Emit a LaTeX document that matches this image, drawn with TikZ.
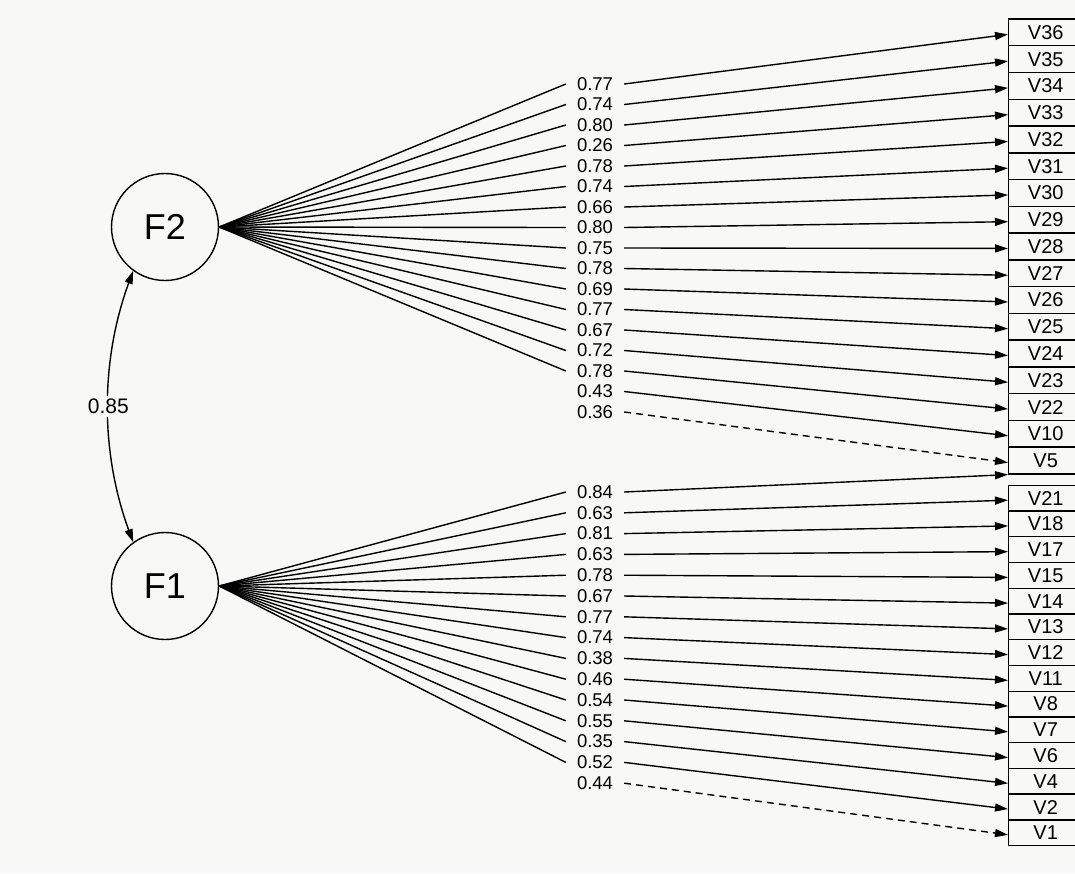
\documentclass[tikz,border=0pt]{standalone}
\usepackage{fontspec}
\setmainfont{Liberation Sans}
\usetikzlibrary{arrows.meta}
\definecolor{paper}{RGB}{248,248,247}
\begin{document}
\begin{tikzpicture}[x=1pt,y=-1pt,
  latent/.style={circle, draw, line width=1.4pt, minimum size=107pt, inner sep=0pt,
    font=\fontsize{36}{42}\selectfont},
  manifest/.style={rectangle, draw, line width=1.4pt, minimum width=74pt, anchor=west,
    inner sep=0pt, font=\fontsize{20}{24}\selectfont},
  loading/.style={inner xsep=11pt, inner ysep=0pt, font=\fontsize{18.5}{21}\selectfont},
  link/.style={line width=1.4pt},
  tip/.style={-{Triangle[length=13pt,width=8pt]}},
  arrowlink/.style={line width=1.4pt, tip},
  weak/.style={dash pattern=on 7pt off 5pt},
  hidden/.style={draw=none}]
\fill[paper] (0,0) rectangle (1075,873);
\useasboundingbox (0,0) rectangle (1075,873);
\clip (0,0) rectangle (1075,873);

% latent factors
\node[latent] (F2) at (165,227) {F2};
\node[latent] (F1) at (165,586) {F1};

% factor correlation
\draw[line width=1.4pt, {Triangle[length=13pt,width=8pt]}-{Triangle[length=13pt,width=8pt]}]
  (F2.234) .. controls +(-33,90) and +(-33,-90) .. (F1.126)
  node[pos=0.5, fill=paper, inner sep=3pt, font=\fontsize{21}{24}\selectfont] (r12) {0.85};

% indicators of F2
\foreach \v [count=\i from 0] in {36,35,34,33,32,31,30,29,28,27,26,25,24,23,22,10,5}
  \node[manifest, minimum height=26.76pt] (V\v) at (1008,{19+(\i+0.5)*26.76}) {V\v};
% indicators of F1
\foreach \v [count=\i from 0] in {21,18,17,15,14,13,12,11,8,7,6,4,2,1}
  \node[manifest, minimum height=25.74pt] (V\v) at (1008,{485.3+(\i+0.5)*25.74}) {V\v};

% loadings on F2
\foreach \val/\v/\s/\t [count=\i from 0] in
  {0.77/36/solid/link, 0.74/35/solid/link, 0.80/34/solid/link, 0.26/33/solid/link,
   0.78/32/solid/link, 0.74/31/solid/link, 0.66/30/solid/link, 0.80/29/solid/link,
   0.75/28/solid/link, 0.78/27/solid/link, 0.69/26/solid/link, 0.77/25/solid/link,
   0.67/24/solid/link, 0.72/23/solid/link, 0.78/22/solid/link, 0.43/10/solid/hidden,
   0.36/5/weak/hidden}
{
  \node[loading] (b\v) at (595,{84+\i*20.5}) {\val};
  \draw[link,\t] (F2.east) -- (b\v.west);
  \draw[arrowlink,\s] (b\v.east) -- ([yshift=-2pt]V\v.west);
}

% loadings on F1
\node[loading] (a5) at (595,492) {0.84};
\draw[link] (F1.east) -- (a5.west);
\draw[arrowlink] (a5.east) -- (V5.south west);
\foreach \val/\v/\s/\t [count=\i from 1] in
  {0.63/21/solid/link, 0.81/18/solid/link, 0.63/17/solid/link, 0.78/15/solid/link,
   0.67/14/solid/link, 0.77/13/solid/link, 0.74/12/solid/link, 0.38/11/solid/link,
   0.46/8/solid/link, 0.54/7/solid/link, 0.55/6/solid/link, 0.35/4/solid/link,
   0.52/2/solid/link, 0.44/1/weak/hidden}
{
  \node[loading] (a\v) at (595,{492+\i*20.8}) {\val};
  \draw[link,\t] (F1.east) -- (a\v.west);
  \draw[arrowlink,\s] (a\v.east) -- ([yshift=-2pt]V\v.west);
}
\end{tikzpicture}
\end{document}
